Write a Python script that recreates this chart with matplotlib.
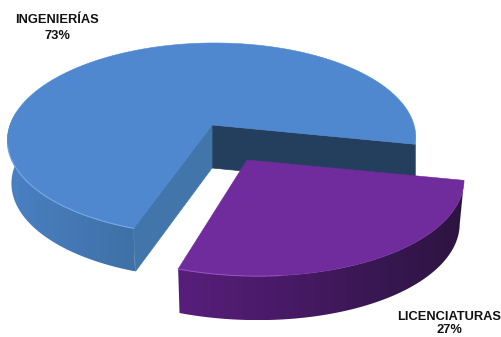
import numpy as np
import matplotlib
matplotlib.use('Agg')
import matplotlib.pyplot as plt
from matplotlib.colors import LinearSegmentedColormap
from matplotlib.patches import Polygon

labels = ['INGENIERÍAS', 'LICENCIATURAS']
values = [73, 27]

plt.rcParams['font.family'] = ['Liberation Sans', 'DejaVu Sans']

fig = plt.figure(figsize=(5.02, 3.37), dpi=100)
ax = fig.add_axes([0, 0, 1, 1])
ax.axis('off')

# perspective view of a flat disc
k = 0.146
A = 94.0
B = 202.0
start = -11.5


def proj(t, cx, cy, scale=1.0, s=0.0):
    t = np.radians(t)
    u = np.cos(t)
    v = np.sin(t)
    w = 1 + k * v
    return cx + scale * (B * u + s * v) / w, cy - scale * A * v / w


def wall(x, y, cx, depth, c1, c2, z):
    # outer side of a slice, shaded from left to right, a bit narrower at the bottom
    xb = x + (cx - x) * 0.02
    px = np.r_[x, xb[::-1]]
    py = np.r_[y, y[::-1] + depth]
    poly = Polygon(np.c_[px, py], closed=True, fc='none', ec='none', transform=ax.transData)
    ax.add_patch(poly)
    cmap = LinearSegmentedColormap.from_list('w', [c1, c2])
    im = ax.imshow(np.linspace(0, 1, 256).reshape(1, -1), cmap=cmap, aspect='auto', zorder=z,
                   extent=[px.min(), px.max(), py.max(), py.min()], interpolation='bilinear')
    im.set_clip_path(poly)


span_big = 360 * values[0] / sum(values)
span_small = 360 * values[1] / sum(values)
end_big = start + span_big

# big slice
cx, cy = 212, 125
depth = 43
s_big = 3.0
tt = np.linspace(start, end_big, 300)
x, y = proj(tt, cx, cy, 1.0, s_big)
xe, ye = proj(np.array([start, end_big]), cx, cy, 1.0, s_big)

# dark back wall, then the cut wall
ax.fill([cx, xe[0], xe[0], cx], [cy, ye[0], ye[0] + depth, cy + depth], color='#243f5e', lw=0.5, zorder=1)
ax.fill([cx, xe[1], xe[1] + 2, cx], [cy, ye[1], ye[1] + depth, cy + depth], color='#4275aa', lw=0.5, zorder=1)
tw = np.linspace(172, end_big, 80)
xw, yw = proj(tw, cx, cy, 1.0, s_big)
wall(xw, yw, cx, depth, '#4a80c3', '#3f70a6', 2)
ax.fill(np.r_[cx, x], np.r_[cy, y], color='#5088d0', lw=0.4, zorder=3)
ax.plot(xw[20:], yw[20:], color='#7fb3ee', lw=0.9, alpha=0.65, zorder=4)

# small slice, pulled out towards the viewer
cx2, cy2 = 247, 160
scale2 = 1.055
s_small = -9.0
depth2 = 44
tt2 = np.linspace(end_big - 360, end_big - 360 + span_small, 200)
x2, y2 = proj(tt2, cx2, cy2, scale2, s_small)
wall(x2, y2, cx2, depth2, '#581e7c', '#2c1440', 5)
ax.fill(np.r_[cx2, x2], np.r_[cy2, y2], color='#702b9c', lw=0.4, zorder=6)
ax.plot(x2[:50], y2[:50], color='#9a5cc8', lw=0.8, alpha=0.7, zorder=7)

ax.set_xlim(0, 502)
ax.set_ylim(337, 0)

# labels
ax.text(57, 20, labels[0], fontsize=9.3, fontweight='bold', color='#111111', ha='center', va='center')
ax.text(57, 36, '%d%%' % values[0], fontsize=9.3, fontweight='bold', color='#111111', ha='center', va='center')
ax.text(449, 317, labels[1], fontsize=9.3, fontweight='bold', color='#111111', ha='center', va='center')
ax.text(449, 330, '%d%%' % values[1], fontsize=9.3, fontweight='bold', color='#111111', ha='center', va='center')

fig.savefig('out.png', dpi=100)
